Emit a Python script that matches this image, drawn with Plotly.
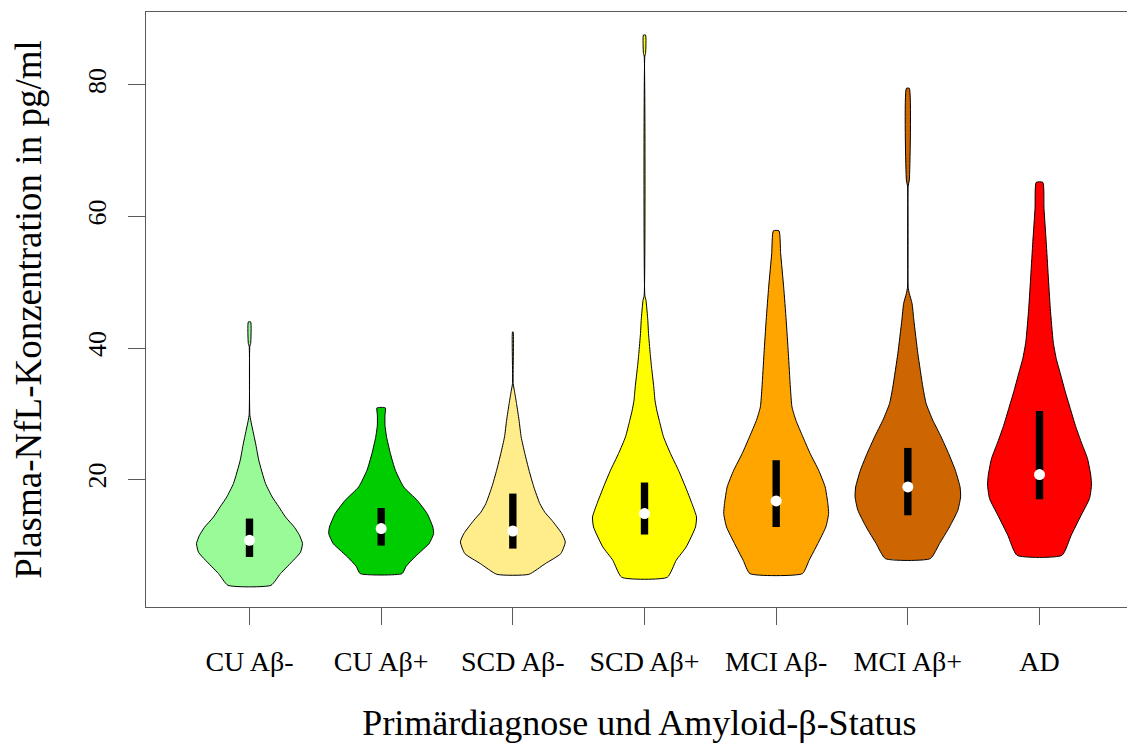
import plotly.graph_objects as go

# ---------------- data ----------------
categories = ["CU Aβ-", "CU Aβ+", "SCD Aβ-", "SCD Aβ+", "MCI Aβ-", "MCI Aβ+", "AD"]
colors = ["#98FB98", "#00CD00", "#FFEC8B", "#FFFF00", "#FFA500", "#CD6600", "#FF0000"]

# density profiles (y in pg/ml, relative half-width, max ~1)
cu_neg_y = [43.97, 40.69, 40.28, 29.93, 29.02, 27.50, 25.21, 22.93, 19.39, 17.35, 15.93, 14.30, 12.73, 11.52, 10.26, 8.93, 7.72, 5.69, 3.91]
cu_neg_d = [0.022, 0.022, 0.006, 0.006, 0.023, 0.063, 0.123, 0.176, 0.304, 0.431, 0.55, 0.683, 0.854, 0.949, 1.006, 0.968, 0.835, 0.588, 0.408]

cu_pos_y = [30.89, 29.78, 28.26, 26.43, 23.95, 21.41, 18.87, 16.84, 14.82, 12.78, 11.78, 10.26, 9.24, 8.22, 6.80, 5.69]
cu_pos_d = [0.080, 0.072, 0.072, 0.104, 0.175, 0.269, 0.427, 0.683, 0.873, 0.981, 0.996, 0.911, 0.778, 0.639, 0.474, 0.398]

scd_neg_y = [42.45, 34.60, 33.58, 31.56, 29.02, 26.48, 23.95, 21.41, 18.87, 16.34, 15.02, 13.80, 11.78, 10.50, 8.73, 7.21, 5.58]
scd_neg_d = [0.006, 0.006, 0.028, 0.070, 0.118, 0.158, 0.228, 0.307, 0.398, 0.512, 0.607, 0.740, 0.930, 0.996, 0.911, 0.617, 0.304]

scd_pos_y = [87.60, 84.81, 84.40, 48.02, 47.26, 44.21, 42.21, 39.17, 37.13, 34.08, 32.06, 30.54, 29.02, 26.48, 23.95, 21.41, 18.87, 16.34, 14.30, 12.78, 9.74, 7.72, 5.13]
scd_pos_d = [0.020, 0.020, 0.006, 0.006, 0.028, 0.063, 0.076, 0.108, 0.133, 0.176, 0.199, 0.233, 0.279, 0.361, 0.493, 0.645, 0.778, 0.901, 0.987, 0.968, 0.791, 0.602, 0.433]

mci_neg_y = [57.82, 54.38, 49.30, 44.23, 39.17, 34.08, 31.04, 29.02, 26.48, 23.95, 21.41, 18.87, 16.34, 14.82, 12.78, 10.26, 7.72, 5.69]
mci_neg_d = [0.053, 0.085, 0.142, 0.190, 0.231, 0.269, 0.300, 0.374, 0.507, 0.645, 0.806, 0.930, 0.981, 0.996, 0.943, 0.791, 0.626, 0.499]

mci_pos_y = [79.49, 65.54, 64.63, 49.25, 48.30, 46.77, 44.23, 39.17, 34.08, 31.56, 29.02, 26.48, 23.95, 21.41, 18.87, 17.35, 15.32, 12.78, 10.26, 7.97]
mci_pos_d = [0.028, 0.028, 0.006, 0.006, 0.028, 0.080, 0.114, 0.190, 0.285, 0.347, 0.474, 0.632, 0.774, 0.901, 0.991, 1.002, 0.949, 0.791, 0.602, 0.427]

ad_y = [65.19, 61.23, 56.15, 51.08, 46.01, 40.93, 38.41, 35.87, 33.33, 30.80, 28.26, 25.72, 23.19, 20.65, 19.13, 17.10, 14.56, 11.52, 8.47]
ad_d = [0.063, 0.085, 0.127, 0.165, 0.205, 0.260, 0.317, 0.404, 0.490, 0.584, 0.679, 0.791, 0.911, 0.973, 0.987, 0.949, 0.791, 0.602, 0.427]

profiles_y = [cu_neg_y, cu_pos_y, scd_neg_y, scd_pos_y, mci_neg_y, mci_pos_y, ad_y]
profiles_d = [cu_neg_d, cu_pos_d, scd_neg_d, scd_pos_d, mci_neg_d, mci_pos_d, ad_d]

q1 = [8.22, 9.95, 9.49, 11.63, 12.78, 14.56, 17.00]
median = [10.76, 12.54, 12.17, 14.82, 16.74, 18.87, 20.75]
q3 = [14.06, 15.67, 17.86, 19.54, 22.93, 24.80, 30.43]

y_ticks = [20, 40, 60, 80]

# ---------------- style ----------------
WEX = 0.4          # max half-width of a violin in category units
BOX_HALF = 0.028   # half-width of the IQR bar
FONT = "Liberation Serif, Times New Roman, serif"
FRAME = "#5a5a5a"

fig = go.Figure()
for i, (ys, ds) in enumerate(zip(profiles_y, profiles_d)):
    c = i + 1
    # right side top->bottom, then left side bottom->top
    xs = [c + WEX * d for d in ds] + [c - WEX * d for d in reversed(ds)]
    yy = list(ys) + list(reversed(ys))
    xs.append(xs[0]); yy.append(yy[0])
    fig.add_trace(go.Scatter(x=xs, y=yy, mode="lines", fill="toself",
                             fillcolor=colors[i],
                             line=dict(color="black", width=1, shape="spline", smoothing=0.5),
                             hoverinfo="skip", showlegend=False))
    bx = [c - BOX_HALF, c + BOX_HALF, c + BOX_HALF, c - BOX_HALF, c - BOX_HALF]
    by = [q1[i], q1[i], q3[i], q3[i], q1[i]]
    fig.add_trace(go.Scatter(x=bx, y=by, mode="lines", fill="toself",
                             fillcolor="black", line=dict(color="black", width=0),
                             hoverinfo="skip", showlegend=False))

fig.add_trace(go.Scatter(x=list(range(1, len(categories) + 1)), y=median, mode="markers",
                         marker=dict(color="white", size=11, line=dict(width=0)),
                         hoverinfo="skip", showlegend=False))

# page body adds an 8px margin: compensate in size and margins
fig.update_layout(
    width=1127, height=735,
    margin=dict(l=138, r=2, t=4, b=136),
    paper_bgcolor="white", plot_bgcolor="white",
    font=dict(family=FONT, color="black"),
    showlegend=False,
)
fig.update_xaxes(
    range=[0.214, 7.71], tickmode="array",
    tickvals=list(range(1, len(categories) + 1)), ticktext=categories,
    ticks="outside", ticklen=17, tickcolor=FRAME, tickwidth=1,
    showline=True, linecolor=FRAME, linewidth=1, mirror=True,
    showgrid=False, zeroline=False, automargin=False,
    tickfont=dict(size=28, family=FONT), ticklabelstandoff=12,
    title=dict(text="Primärdiagnose und Amyloid-β-Status",
               font=dict(size=36, family=FONT), standoff=35),
)
fig.update_yaxes(
    range=[0.61, 91.1], tickmode="array", tickvals=y_ticks,
    ticks="outside", ticklen=17, tickcolor=FRAME, tickwidth=1,
    showline=True, linecolor=FRAME, linewidth=1, mirror=True,
    showgrid=False, zeroline=False, tickangle=-90, automargin=False,
    tickfont=dict(size=26, family=FONT), ticklabelstandoff=12,
    title=dict(text="Plasma-NfL-Konzentration in pg/ml",
               font=dict(size=37, family=FONT), standoff=32),
)

fig.write_html("out.html")
